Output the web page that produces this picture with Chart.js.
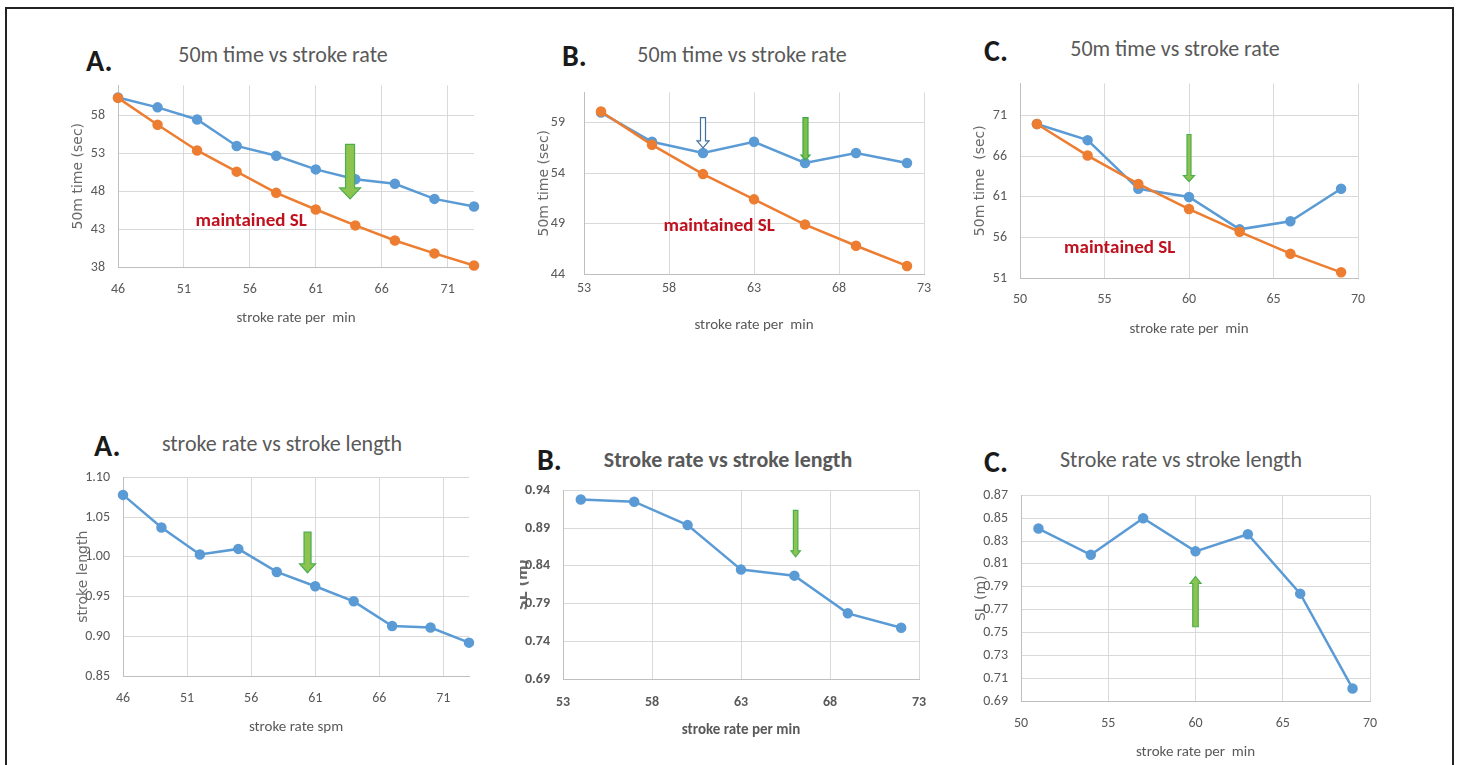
<!DOCTYPE html>
<html>
<head>
<meta charset="utf-8">
<title>50m time and stroke length vs stroke rate</title>
<script src="https://cdn.jsdelivr.net/npm/chart.js@4.4.1/dist/chart.umd.min.js"></script>
<style>
  body { margin: 0; background: #fff; }
  #page { position: relative; width: 1459px; height: 765px; overflow: hidden; background: #fff; }
  #frame { position: absolute; left: 5px; top: 7px; width: 1449px; height: 800px; border: 2px solid #222; box-sizing: border-box; }
  .tag { position: absolute; font: bold 30px Carlito, Calibri, Lato, sans-serif; color: #1a1a1a; line-height: 1; }
  .head { position: absolute; width: 400px; text-align: center; font: 22px Carlito, Calibri, Lato, sans-serif; color: #595959; line-height: 1; white-space: nowrap; }
  canvas { position: absolute; }
</style>
</head>
<body>
<div id="page">
  <div id="frame"></div>

  <div class="tag" style="left:86px; top:46px;">A.</div>
  <div class="tag" style="left:562px; top:41px;">B.</div>
  <div class="tag" style="left:984px; top:36px;">C.</div>
  <div class="tag" style="left:94px; top:431px;">A.</div>
  <div class="tag" style="left:537px; top:445px;">B.</div>
  <div class="tag" style="left:984px; top:447px;">C.</div>

  <div class="head" style="left:83px; top:44px;">50m time vs stroke rate</div>
  <div class="head" style="left:542px; top:44px;">50m time vs stroke rate</div>
  <div class="head" style="left:975px; top:38px;">50m time vs stroke rate</div>
  <div class="head" style="left:82px; top:433px;">stroke rate vs stroke length</div>
  <div class="head" style="left:528px; top:449px; font-weight:bold;">Stroke rate vs stroke length</div>
  <div class="head" style="left:981px; top:449px;">Stroke rate vs stroke length</div>
</div>

<script>
// swimmer A
var rateA = [46, 49, 52, 55, 58, 61, 64, 67, 70, 73];
var timeA = [60.4, 59.1, 57.5, 54.0, 52.7, 50.9, 49.6, 49.0, 47.0, 46.0];
var keptA = [60.35, 56.8, 53.4, 50.6, 47.8, 45.6, 43.5, 41.5, 39.8, 38.2];
var slA = [1.078, 1.037, 1.003, 1.010, 0.981, 0.963, 0.944, 0.913, 0.911, 0.892];

// swimmer B
var rateB = [54, 57, 60, 63, 66, 69, 72];
var timeB = [60.0, 57.1, 56.0, 57.1, 55.0, 56.0, 55.0];
var keptB = [60.1, 56.8, 53.9, 51.4, 48.9, 46.8, 44.8];
var slB = [0.928, 0.925, 0.894, 0.835, 0.827, 0.777, 0.758];

// swimmer C
var rateC = [51, 54, 57, 60, 63, 66, 69];
var timeC = [70.0, 68.0, 62.0, 61.0, 57.0, 58.0, 62.0];
var keptC = [70.0, 66.1, 62.6, 59.5, 56.7, 54.0, 51.7];
var slC = [0.841, 0.818, 0.850, 0.821, 0.836, 0.784, 0.701];

// tick labels
var rateTicksA = [46, 51, 56, 61, 66, 71];
var rateTicksB = [53, 58, 63, 68, 73];
var rateTicksC = [50, 55, 60, 65, 70];
var timeTicksA = [38, 43, 48, 53, 58];
var timeTicksB = [44, 49, 54, 59];
var timeTicksC = [51, 56, 61, 66, 71];
var slTicksA = [0.85, 0.90, 0.95, 1.00, 1.05, 1.10];
var slTicksB = [0.69, 0.74, 0.79, 0.84, 0.89, 0.94];
var slTicksC = [0.69, 0.71, 0.73, 0.75, 0.77, 0.79, 0.81, 0.83, 0.85, 0.87];

var FONT = 'Carlito, Calibri, Lato, sans-serif';
var SPACED = '"DejaVu Sans", sans-serif';
var GRAY = '#595959';
var BLUE = '#5b9bd5';
var ORANGE = '#ed7d31';
var GREEN = '#8dc450';
var GREEN_LINE = '#4cae4f';

var Y_W = 52, X_H = 64, PAD_T = 14, PAD_R = 24;

function points(xs, ys) {
    var out = [];
    for (var i = 0; i < xs.length; i++) {
        out.push({x: xs[i], y: ys[i]});
    }
    return out;
}

function lineSet(xs, ys, color) {
    return {
        data: points(xs, ys),
        borderColor: color,
        backgroundColor: color,
        pointBackgroundColor: color,
        pointBorderColor: color,
        borderWidth: 2.5,
        pointRadius: 4,
        pointHoverRadius: 4,
        tension: 0,
        clip: false
    };
}

function fixedTicks(list) {
    return function(scale) {
        var t = [];
        for (var i = 0; i < list.length; i++) {
            t.push({value: list[i]});
        }
        scale.ticks = t;
    };
}

function drawArrow(ctx, x, y0, y1, a) {
    var dir = y1 > y0 ? 1 : -1;
    var base = y1 - dir * a.len;
    ctx.save();
    ctx.beginPath();
    ctx.moveTo(x - a.shaft / 2, y0);
    ctx.lineTo(x - a.shaft / 2, base);
    ctx.lineTo(x - a.head / 2, base);
    ctx.lineTo(x, y1);
    ctx.lineTo(x + a.head / 2, base);
    ctx.lineTo(x + a.shaft / 2, base);
    ctx.lineTo(x + a.shaft / 2, y0);
    ctx.closePath();
    ctx.fillStyle = a.fill || GREEN;
    ctx.fill();
    ctx.lineWidth = 1.2;
    ctx.strokeStyle = a.line || GREEN_LINE;
    ctx.stroke();
    ctx.restore();
}

// arrows and the "maintained SL" note, placed in data units
// (kept in a closure so chart.js does not resolve them as options)
function makeMarks(arrows, note) {
    return {
        id: 'marks',
        afterDatasetsDraw: function(chart) {
            var ctx = chart.ctx;
            var xs = chart.scales.x;
            var ys = chart.scales.y;
            for (var i = 0; i < arrows.length; i++) {
                var a = arrows[i];
                drawArrow(ctx, xs.getPixelForValue(a.x), ys.getPixelForValue(a.from), ys.getPixelForValue(a.to), a);
            }
            if (note) {
                ctx.save();
                ctx.font = 'bold 19px ' + FONT;
                ctx.fillStyle = '#c0111f';
                ctx.textAlign = 'center';
                ctx.textBaseline = 'middle';
                ctx.fillText(note.text, xs.getPixelForValue(note.x), ys.getPixelForValue(note.y));
                ctx.restore();
            }
        }
    };
}

function makePanel(p) {
    var c = document.createElement('canvas');
    c.width = Math.round(p.plot[1] - p.plot[0]) + Y_W + PAD_R;
    c.height = Math.round(p.plot[3] - p.plot[2]) + PAD_T + X_H;
    c.style.left = (Math.round(p.plot[0]) - Y_W) + 'px';
    c.style.top = (Math.round(p.plot[2]) - PAD_T) + 'px';
    if (p.clip) {
        c.style.clipPath = 'inset(0 0 0 ' + p.clip + 'px)';
    }
    document.getElementById('page').appendChild(c);

    var weight = p.bold ? 'bold' : 'normal';
    var datasets = [];
    for (var i = 0; i < p.series.length; i++) {
        datasets.push(lineSet(p.xs, p.series[i][0], p.series[i][1]));
    }

    new Chart(c.getContext('2d'), {
        type: 'line',
        data: {datasets: datasets},
        plugins: [makeMarks(p.arrows || [], p.note)],
        options: {
            responsive: false,
            animation: false,
            events: [],
            layout: {padding: {left: 0, right: PAD_R, top: PAD_T, bottom: 0}},
            plugins: {
                legend: {display: false},
                tooltip: {enabled: false}
            },
            scales: {
                x: {
                    type: 'linear',
                    min: p.xr[0],
                    max: p.xr[1],
                    afterBuildTicks: fixedTicks(p.xt),
                    afterFit: function(s) { s.height = X_H; },
                    grid: {color: '#d9d9d9', drawTicks: false},
                    border: {color: '#bfbfbf'},
                    ticks: {
                        autoSkip: false,
                        maxRotation: 0,
                        padding: p.xpad,
                        color: GRAY,
                        font: {family: FONT, size: 14, weight: weight}
                    },
                    title: {
                        display: true,
                        text: p.xtitle,
                        color: GRAY,
                        font: {family: FONT, size: 15, weight: weight},
                        padding: {top: 0, bottom: 4}
                    }
                },
                y: {
                    type: 'linear',
                    min: p.yr[0],
                    max: p.yr[1],
                    afterBuildTicks: fixedTicks(p.yt),
                    afterFit: function(s) { s.width = Y_W; },
                    grid: {color: '#d9d9d9', drawTicks: false},
                    border: {color: '#bfbfbf'},
                    ticks: {
                        autoSkip: false,
                        padding: p.ypad,
                        color: GRAY,
                        font: {family: FONT, size: 14, weight: weight},
                        callback: function(v) { return v.toFixed(p.dec); }
                    },
                    title: {
                        display: true,
                        text: p.ytitle,
                        color: '#6a6a6a',
                        font: {family: SPACED, size: 14, weight: weight},
                        padding: {top: 3.6, bottom: 0}
                    }
                }
            }
        }
    });
}

// plot rectangles are [left, right, top, bottom] in page pixels
makePanel({
    plot: [118, 474, 78, 267], xs: rateA, xr: [46, 73], yr: [38, 62], xt: rateTicksA, yt: timeTicksA,
    dec: 0, xpad: 14, ypad: 13, xtitle: 'stroke rate per  min', ytitle: '50m time (sec)',
    series: [[keptA, ORANGE], [timeA, BLUE]],
    arrows: [{x: 63.6, from: 54.2, to: 47.0, shaft: 9, head: 21, len: 11}],
    note: {text: 'maintained SL', x: 56.1, y: 44.1}
});
makePanel({
    plot: [584, 924, 79, 274], xs: rateB, xr: [53, 73], yr: [44, 62], xt: rateTicksB, yt: timeTicksB,
    dec: 0, xpad: 6, ypad: 19, xtitle: 'stroke rate per  min', ytitle: '50m time (sec)',
    series: [[keptB, ORANGE], [timeB, BLUE]],
    arrows: [
        {x: 60.0, from: 59.5, to: 56.5, shaft: 5, head: 12, len: 7, fill: '#ffffff', line: '#41719c'},
        {x: 66.03, from: 59.5, to: 55.3, shaft: 5, head: 9, len: 5, fill: '#7cc04a', line: '#3fa64a'}
    ],
    note: {text: 'maintained SL', x: 60.95, y: 48.7}
});
makePanel({
    plot: [1020, 1358, 76, 278], xs: rateC, xr: [50, 70], yr: [51, 75], xt: rateTicksC, yt: timeTicksC,
    dec: 0, xpad: 13, ypad: 13, xtitle: 'stroke rate per  min', ytitle: '50m time  (sec)',
    series: [[keptC, ORANGE], [timeC, BLUE]],
    arrows: [{x: 60.0, from: 68.7, to: 62.9, shaft: 4, head: 11, len: 6}],
    note: {text: 'maintained SL', x: 55.9, y: 54.7}
});
makePanel({
    plot: [123, 469, 470, 676], xs: rateA, xr: [46, 73], yr: [0.85, 1.10], xt: rateTicksA, yt: slTicksA,
    dec: 2, xpad: 14, ypad: 13, xtitle: 'stroke rate spm', ytitle: 'stroke length',
    series: [[slA, BLUE]],
    arrows: [{x: 60.4, from: 1.031, to: 0.980, shaft: 7, head: 16, len: 9}]
});
makePanel({
    plot: [563, 919, 483, 679], xs: rateB, xr: [53, 73], yr: [0.69, 0.94], xt: rateTicksB, yt: slTicksB,
    dec: 2, xpad: 15, ypad: 13, xtitle: 'stroke rate per min', ytitle: 'SL (m)', bold: true, clip: 9,
    series: [[slB, BLUE]],
    arrows: [{x: 66.07, from: 0.9135, to: 0.852, shaft: 4.5, head: 9.5, len: 6}]
});
makePanel({
    plot: [1021, 1370, 488, 701], xs: rateC, xr: [50, 70], yr: [0.69, 0.87], xt: rateTicksC, yt: slTicksC,
    dec: 2, xpad: 14, ypad: 13, xtitle: 'stroke rate per  min', ytitle: 'SL (m)',
    series: [[slC, BLUE]],
    arrows: [{x: 60.0, from: 0.755, to: 0.799, shaft: 5.5, head: 11, len: 7}]
});
</script>
</body>
</html>
